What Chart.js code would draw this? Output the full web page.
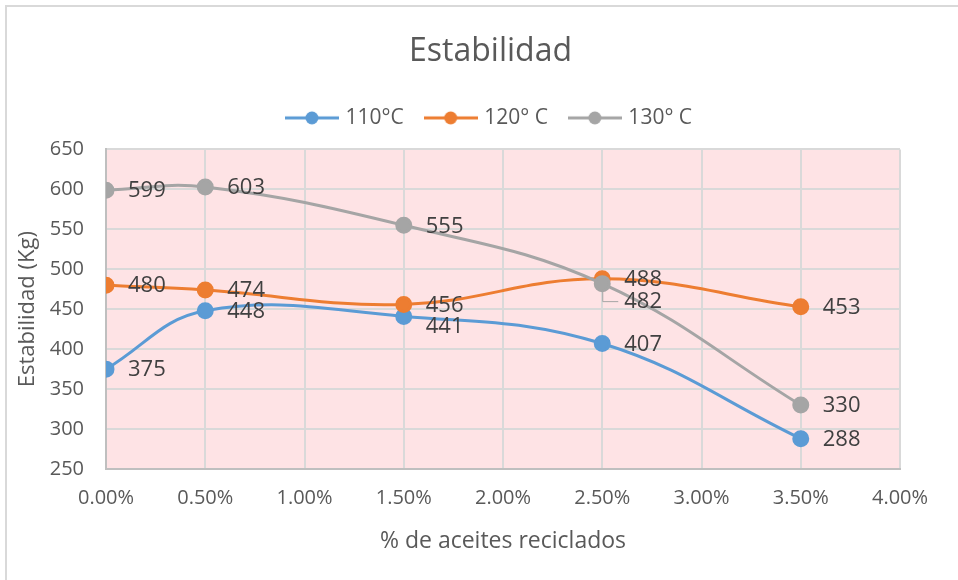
<!DOCTYPE html>
<html>
<head>
<meta charset="utf-8">
<script src="https://cdn.jsdelivr.net/npm/chart.js@4.4.1/dist/chart.umd.min.js"></script>
<style>
  html, body { margin: 0; padding: 0; background: #fff; }
  #frame { position: absolute; left: 5px; top: 5px; width: 1000px; height: 600px;
           border-left: 2px solid #d9d9d9; border-top: 2px solid #d9d9d9; }
  #wrap { position: absolute; left: 0; top: 0; width: 958px; height: 580px; }
</style>
</head>
<body>
<div id="frame"></div>
<div id="wrap"><canvas id="chart" width="958" height="580"></canvas></div>
<script>
// % de aceites reciclados (x values, in percent)
const aceites = [0, 0.5, 1.5, 2.5, 3.5];
const seriesNames = ['110°C', '120° C', '130° C'];
const est110 = [375, 448, 441, 407, 288];
const est120 = [480, 474, 456, 488, 453];
const est130 = [599, 603, 555, 482, 330];
const yTicks = [250, 300, 350, 400, 450, 500, 550, 600, 650];
const xTicks = [0, 0.5, 1, 1.5, 2, 2.5, 3, 3.5, 4];

const colors = ['#5B9BD5', '#ED7D31', '#A5A5A5'];
const FONT = "'Open Sans', 'Noto Sans', sans-serif";
Chart.defaults.font.family = FONT;
Chart.defaults.color = '#595959';

// legend symbol: short line with a dot in the middle
function legendSymbol(color) {
    const c = document.createElement('canvas');
    c.width = 54; c.height = 16;
    const g = c.getContext('2d');
    g.strokeStyle = color;
    g.lineWidth = 3;
    g.beginPath(); g.moveTo(0, 8); g.lineTo(54, 8); g.stroke();
    g.fillStyle = color;
    g.beginPath(); g.arc(27, 8, 6.5, 0, Math.PI * 2); g.fill();
    return c;
}

function toPoints(vals) {
    return vals.map((v, i) => ({ x: aceites[i], y: v }));
}

const plotBg = {
    id: 'plotBg',
    beforeDraw(chart) {
        const a = chart.chartArea, ctx = chart.ctx;
        ctx.save();
        ctx.fillStyle = '#FEE3E5';
        ctx.fillRect(a.left, a.top, a.right - a.left, a.bottom - a.top);
        ctx.restore();
    }
};

const legendGap = {
    id: 'legendGap',
    beforeInit(chart) {
        const fit = chart.legend.fit;
        chart.legend.fit = function() {
            fit.bind(chart.legend)();
            this.height += 11;
        };
    },
    // title and legend sit a bit right of the plot centre in the original
    afterLayout(chart) {
        [chart.titleBlock, chart.legend].forEach(b => {
            if (b) { b.left += 33; b.right += 33; }
        });
    }
};

// value labels to the right of each point
const valueLabels = {
    id: 'valueLabels',
    afterDatasetsDraw(chart) {
        const ctx = chart.ctx;
        ctx.save();
        ctx.font = '22px ' + FONT;
        ctx.fillStyle = '#404040';
        ctx.textAlign = 'left';
        ctx.textBaseline = 'middle';
        chart.data.datasets.forEach((ds, di) => {
            const meta = chart.getDatasetMeta(di);
            meta.data.forEach((pt, i) => {
                let dy = 1;
                if (di === 0 && i === 2) dy = 10;
                if (di === 2 && i === 3) {
                    dy = 18;
                    ctx.strokeStyle = '#A5A5A5';
                    ctx.lineWidth = 1;
                    ctx.beginPath();
                    ctx.moveTo(pt.x + 0.5, pt.y + 8);
                    ctx.lineTo(pt.x + 0.5, pt.y + dy);
                    ctx.lineTo(pt.x + 16, pt.y + dy);
                    ctx.stroke();
                }
                ctx.fillText(String(ds.data[i].y), pt.x + 22, pt.y + dy);
            });
        });
        ctx.restore();
    }
};

const allSeries = [est110, est120, est130];

new Chart(document.getElementById('chart'), {
    type: 'line',
    data: {
        datasets: allSeries.map((vals, i) => ({
            label: seriesNames[i],
            data: toPoints(vals),
            borderColor: colors[i],
            backgroundColor: colors[i],
            pointBackgroundColor: colors[i],
            pointBorderColor: colors[i],
            pointStyle: 'circle',
            pointRadius: 7,
            borderWidth: 3,
            tension: 0.4,
            fill: false,
            order: 2 - i
        }))
    },
    options: {
        responsive: false,
        animation: false,
        layout: { padding: { left: 15, right: 58, top: 8, bottom: 0 } },
        plugins: {
            title: {
                display: true,
                text: 'Estabilidad',
                color: '#595959',
                font: { size: 32, weight: 'normal' },
                padding: { top: 25, bottom: 12 }
            },
            legend: {
                display: true,
                position: 'top',
                labels: {
                    usePointStyle: true,
                    pointStyleWidth: 46,
                    padding: 24,
                    color: '#595959',
                    font: { size: 21 },
                    generateLabels(chart) {
                        return chart.data.datasets.map((ds, i) => ({
                            text: ds.label,
                            fillStyle: colors[i],
                            strokeStyle: colors[i],
                            fontColor: '#595959',
                            lineWidth: 0,
                            pointStyle: legendSymbol(colors[i]),
                            datasetIndex: i,
                            hidden: false
                        }));
                    }
                }
            },
            tooltip: { enabled: false }
        },
        scales: {
            x: {
                type: 'linear',
                min: 0,
                max: 4,
                afterBuildTicks(scale) {
                    scale.ticks = xTicks.map(v => ({ value: v }));
                },
                afterFit(scale) { scale.height = 111; },
                ticks: {
                    padding: 17,
                    color: '#595959',
                    font: { size: 20 },
                    callback: v => v.toFixed(2) + '%'
                },
                grid: { color: '#d9d9d9', lineWidth: 2, drawTicks: false },
                border: { color: '#bfbfbf', width: 2 },
                title: {
                    display: true,
                    text: '% de aceites reciclados',
                    color: '#595959',
                    font: { size: 23 },
                    padding: { top: 0, bottom: 25 }
                }
            },
            y: {
                min: 250,
                max: 650,
                afterBuildTicks(scale) {
                    scale.ticks = yTicks.map(v => ({ value: v }));
                },
                afterFit(scale) { scale.width = 91; },
                ticks: {
                    padding: 22,
                    color: '#595959',
                    font: { size: 20 }
                },
                grid: { color: '#d9d9d9', lineWidth: 2, drawTicks: false },
                border: { color: '#bfbfbf', width: 2 },
                title: {
                    display: true,
                    text: 'Estabilidad (Kg)',
                    color: '#595959',
                    font: { size: 22 },
                    padding: { top: 0, bottom: 0 }
                }
            }
        }
    },
    plugins: [plotBg, legendGap, valueLabels]
});
</script>
</body>
</html>
